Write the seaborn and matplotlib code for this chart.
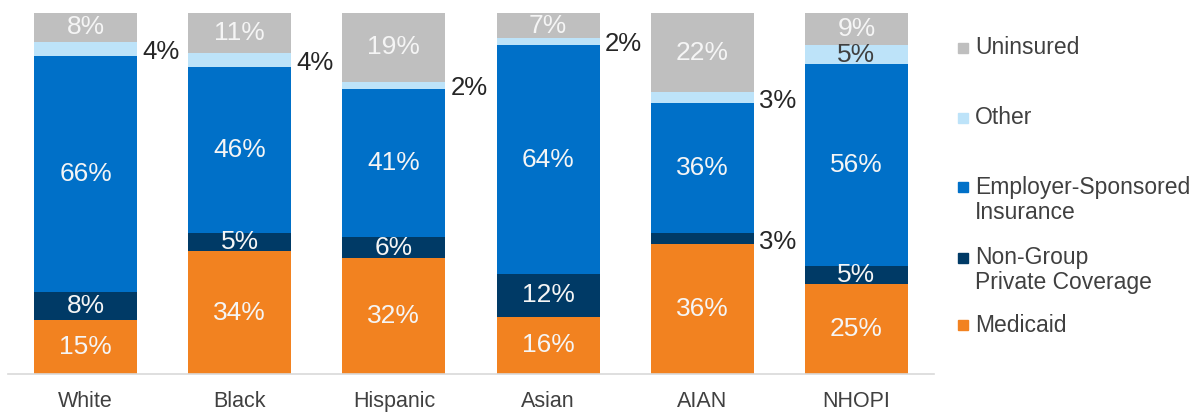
import matplotlib
matplotlib.use("Agg")
import matplotlib.pyplot as plt
import seaborn as sns
import numpy as np
import pandas as pd

races = ["White", "Black", "Hispanic", "Asian", "AIAN", "NHOPI"]
medicaid = [15, 34, 32, 16, 36, 25]
nongroup = [8, 5, 6, 12, 3, 5]
esi = [66, 46, 41, 64, 36, 56]
other = [4, 4, 2, 2, 3, 5]
uninsured = [8, 11, 19, 7, 22, 9]

series_names = ["Medicaid", "Non-Group\nPrivate Coverage", "Employer-Sponsored\nInsurance", "Other", "Uninsured"]
series_vals = [medicaid, nongroup, esi, other, uninsured]
colors = ["#F28220", "#003A66", "#0070C8", "#BDE3F9", "#BFBFBF"]
text_colors = ["#F5F5F5", "#F5F5F5", "#F5F5F5", "#404040", "#F5F5F5"]

sns.set_theme(style="white")
plt.rcParams["font.family"] = ["Liberation Sans", "DejaVu Sans"]

vals = np.array(series_vals, dtype=float)  # layers x races
totals = vals.sum(axis=0)
scaled = vals / totals * 100.0
cum = np.cumsum(scaled, axis=0)

fig = plt.figure(figsize=(12.01, 4.15), dpi=100)
ax = fig.add_axes([8.4 / 1201, (415 - 374) / 415, (933.6 - 8.4) / 1201, (374 - 13) / 415])

width = 0.667
# Draw cumulative stacks from the top layer downwards
for k in range(len(series_names) - 1, -1, -1):
    df = pd.DataFrame({"race": races, "value": cum[k]})
    sns.barplot(data=df, x="race", y="value", order=races, color=colors[k],
                saturation=1, width=width, ax=ax, linewidth=0, errorbar=None)

# Segment labels
for k in range(len(series_names)):
    for i in range(len(races)):
        v = series_vals[k][i]
        bottom = cum[k][i] - scaled[k][i]
        center = bottom + scaled[k][i] / 2
        if v < 5:
            ax.text(i + width / 2 + 0.035, center - 0.8, f"{v}%", ha="left", va="center",
                    fontsize=18.5, color="#262626")
        else:
            ax.text(i, center, f"{v}%", ha="center", va="center", fontsize=19,
                    color=text_colors[k])

ax.set_xlim(-0.5, 5.5)
ax.set_ylim(0, 100)
ax.set_xlabel("")
ax.set_ylabel("")
ax.set_yticks([])
for s in ["top", "right", "left"]:
    ax.spines[s].set_visible(False)
ax.spines["bottom"].set_color("#D9D9D9")
ax.spines["bottom"].set_linewidth(1.2)
ax.tick_params(axis="x", length=0, pad=12, labelsize=15.5, labelcolor="#404040")

# Legend (manual, top to bottom)
legend_order = [4, 3, 2, 1, 0]
legend_y = [48, 118, 200, 270, 325]
for k, yc in zip(legend_order, legend_y):
    nlines = series_names[k].count("\n") + 1
    first_line_y = yc - (nlines - 1) * 25 / 2
    fig.patches.append(plt.Rectangle((958 / 1201, 1 - (first_line_y + 5) / 415), 10 / 1201, 10 / 415,
                                     transform=fig.transFigure, color=colors[k]))
    fig.text(975 / 1201, 1 - yc / 415, series_names[k], ha="left", va="center",
             fontsize=16.5, color="#404040", linespacing=1.1)

fig.savefig("out.png", dpi=100)
